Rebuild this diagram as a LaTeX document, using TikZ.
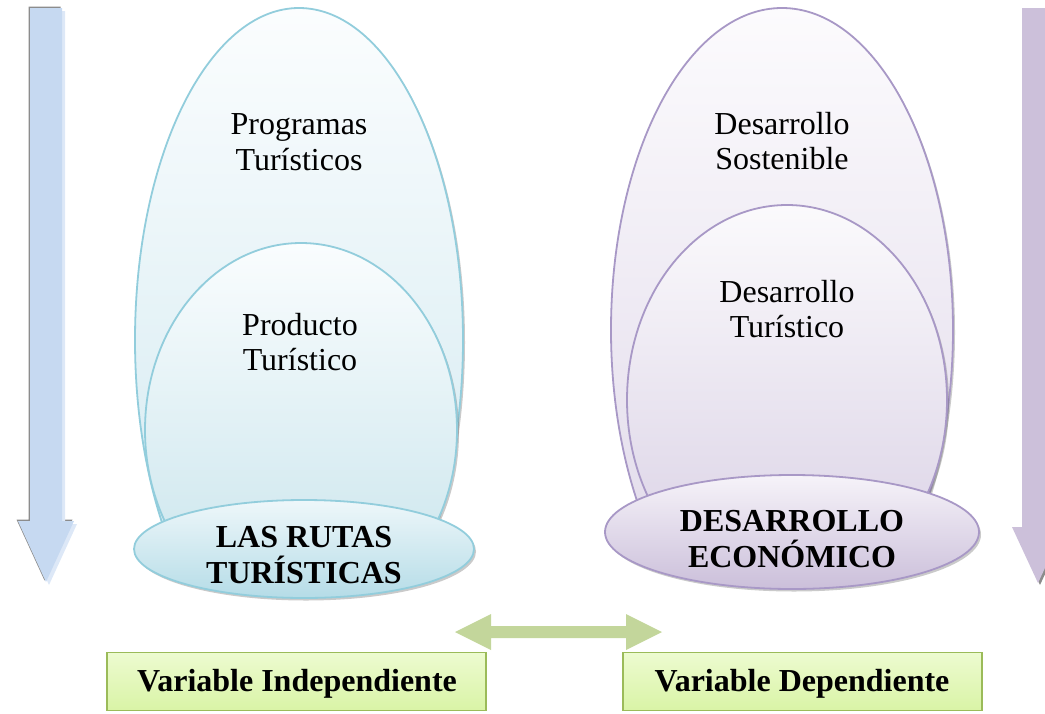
\documentclass[tikz,border=0pt]{standalone}
\usepackage{fontspec}
\setmainfont{Liberation Serif}
\usetikzlibrary{shapes.geometric,shadows}
\definecolor{bluedge}{HTML}{92CDDC}
\definecolor{purpedge}{HTML}{A898C6}
\definecolor{greenedge}{HTML}{9BBB59}
\definecolor{arrowblue}{HTML}{C6D9F1}
\definecolor{arrowpurp}{HTML}{CCC0DA}
\definecolor{arrowgreen}{HTML}{C3D69B}
\definecolor{b1top}{HTML}{FBFDFE}\definecolor{b1bot}{HTML}{CDE7EF}
\definecolor{b2top}{HTML}{FAFDFE}\definecolor{b2bot}{HTML}{C6E3EB}
\definecolor{b3top}{HTML}{EEF7FA}\definecolor{b3bot}{HTML}{B5DCE7}
\definecolor{p1top}{HTML}{FCFBFD}\definecolor{p1bot}{HTML}{DED6E8}
\definecolor{p2top}{HTML}{FBFAFC}\definecolor{p2bot}{HTML}{D8CFE4}
\definecolor{p3top}{HTML}{F6F3F9}\definecolor{p3bot}{HTML}{CBBFDA}
\definecolor{green1}{HTML}{EDFBD0}
\definecolor{green2}{HTML}{D9F4A6}
\tikzset{
  eshadow/.style={drop shadow={shadow xshift=2pt,shadow yshift=-2.5pt,opacity=0.35,fill=black!60}},
  blob/.style={ellipse,inner sep=0pt,outer sep=0pt,line width=1.8pt,eshadow},
  txt/.style={align=center,font=\fontsize{32}{35.5}\selectfont,inner sep=0pt},
  btxt/.style={txt,font=\fontsize{32}{36}\selectfont\bfseries},
  varbox/.style={draw=greenedge,line width=1.6pt,top color=green1,bottom color=green2,
    minimum height=58pt,inner sep=0pt},
}
\begin{document}
\begin{tikzpicture}[x=1pt,y=-1pt]
\useasboundingbox (0,0) rectangle (1045,713);
% side arrows
\fill[black!45] (28.5,6.5) -- (60.5,6.5) -- (60.5,519.5) -- (72.5,519.5) -- (44.5,580.5) -- (16.5,519.5) -- (28.5,519.5) -- cycle;
\fill[arrowblue!60] (33,11) -- (65,11) -- (65,524) -- (77,524) -- (49,585) -- (21,524) -- (33,524) -- cycle;
\fill[arrowblue] (30,8) -- (62,8) -- (62,521) -- (74,521) -- (46,582) -- (18,521) -- (30,521) -- cycle;
\fill[black!45] (1024,10) -- (1056,10) -- (1056,529) -- (1066,529) -- (1040,585) -- (1014,529) -- (1024,529) -- cycle;
\fill[arrowpurp] (1022,8) -- (1054,8) -- (1054,527) -- (1064,527) -- (1038,583) -- (1012,527) -- (1022,527) -- cycle;
% left group
\begin{scope}
\clip (100,0) rectangle (500,549);
\node[blob,draw=bluedge,top color=b1top,bottom color=b1bot,minimum width=328pt,minimum height=664pt] (pt) at (299,340) {};
\node[blob,draw=bluedge,top color=b2top,bottom color=b2bot,minimum width=312pt,minimum height=374pt] (pr) at (301,430) {};
\end{scope}
\node[blob,draw=bluedge,top color=b3top,bottom color=b3bot,minimum width=340pt,minimum height=98pt] (rt) at (304,549) {};
\node[txt] (ptt) at (299,142) {Programas\\Turísticos};
\node[txt] (prt) at (300,342) {Producto\\Turístico};
\node[btxt] (rtt) at (304,555) {LAS RUTAS\\TURÍSTICAS};
% right group
\begin{scope}
\clip (580,0) rectangle (1000,532);
\node[blob,draw=purpedge,top color=p1top,bottom color=p1bot,minimum width=342pt,minimum height=644pt] (ds) at (782,330) {};
\node[blob,draw=purpedge,top color=p2top,bottom color=p2bot,minimum width=320pt,minimum height=390pt] (dt) at (787,400) {};
\end{scope}
\node[blob,draw=purpedge,top color=p3top,bottom color=p3bot,minimum width=374pt,minimum height=114pt] (de) at (792,532) {};
\node[txt] (dst) at (782,141) {Desarrollo\\Sostenible};
\node[txt] (dtt) at (787,309) {Desarrollo\\Turístico};
\node[btxt] (det) at (792,539) {DESARROLLO\\ECONÓMICO};
% double arrow
\coordinate (la) at (455,632);
\coordinate (ra) at (662,632);
\fill[arrowgreen] (la) -- (491,614) -- (491,626) -- (626,626) -- (626,614) -- (ra) -- (626,650) -- (626,638) -- (491,638) -- (491,650) -- cycle;
% boxes
\node[varbox,minimum width=379pt] (vi) at (296.5,681.5) {};
\node[varbox,minimum width=359pt] (vd) at (802.5,681.5) {};
\node[btxt] (vit) at (297,684) {Variable Independiente};
\node[btxt] (vdt) at (802,684) {Variable Dependiente};
\end{tikzpicture}
\end{document}
